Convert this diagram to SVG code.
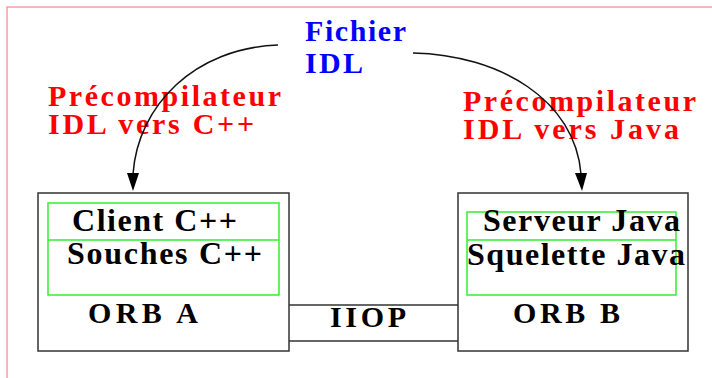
<svg xmlns="http://www.w3.org/2000/svg" width="712" height="378" viewBox="0 0 712 378">
<style>
.t{font-family:"Liberation Serif","Times New Roman",serif;font-weight:bold}
.blk{fill:#000;font-size:32px}
.orb{fill:#000;font-size:30px}
.red{fill:#ff0000;font-size:30px}
.blue{fill:#0000ff;font-size:30px}
.box{fill:#fff;stroke:#333;stroke-width:1.5}
.grn{fill:none;stroke:#33ee33;stroke-width:1.5}
.arr{fill:none;stroke:#111;stroke-width:1.5}
.pipe{stroke:#333;stroke-width:1.5}
</style>
<rect x="7" y="7" width="760" height="420" fill="none" stroke="#f4a0a0" stroke-width="1.5"/>
<g id="fichier-idl">
<text class="t blue" x="305" y="41" textLength="101" lengthAdjust="spacing">Fichier</text>
<text class="t blue" x="305" y="73" textLength="58" lengthAdjust="spacing">IDL</text>
</g>
<g id="label-cpp">
<text class="t red" x="48" y="106" textLength="233" lengthAdjust="spacing">Précompilateur</text>
<text class="t red" x="48" y="134" textLength="206" lengthAdjust="spacing">IDL vers C++</text>
</g>
<g id="label-java">
<text class="t red" x="463" y="111" textLength="233" lengthAdjust="spacing">Précompilateur</text>
<text class="t red" x="463" y="139" textLength="216" lengthAdjust="spacing">IDL vers Java</text>
</g>
<g id="connectors">
<path class="arr" d="M278,45 C195,48 138,105 133,174"/>
<path d="M127,173 L139,173 L133,191 Z" fill="#000"/>
<path class="arr" d="M413,53 C500,55 575,100 581,174"/>
<path d="M575,173 L587,173 L582,191 Z" fill="#000"/>
<line class="pipe" x1="289" y1="305" x2="458" y2="305"/>
<line class="pipe" x1="289" y1="341" x2="458" y2="341"/>
</g>
<g id="orb-a">
<rect class="box" x="38" y="193" width="251" height="158"/>
<rect class="grn" x="48" y="203" width="231" height="92"/>
<line class="grn" x1="48" y1="240" x2="279" y2="240"/>
<text class="t blk" x="72" y="231" textLength="165" lengthAdjust="spacing">Client C++</text>
<text class="t blk" x="67" y="264" textLength="195" lengthAdjust="spacing">Souches C++</text>
<text class="t orb" x="88" y="323" textLength="110" lengthAdjust="spacing">ORB A</text>
</g>
<g id="iiop">
<text class="t orb" x="330" y="327" textLength="76" lengthAdjust="spacing">IIOP</text>
</g>
<g id="orb-b">
<rect class="box" x="458" y="193" width="230" height="158"/>
<rect class="grn" x="467" y="212" width="209" height="83"/>
<line class="grn" x1="467" y1="240" x2="676" y2="240"/>
<text class="t blk" x="483" y="231" textLength="197" lengthAdjust="spacing">Serveur Java</text>
<text class="t blk" x="467" y="265" textLength="218" lengthAdjust="spacing">Squelette Java</text>
<text class="t orb" x="513" y="323" textLength="107" lengthAdjust="spacing">ORB B</text>
</g>
</svg>
